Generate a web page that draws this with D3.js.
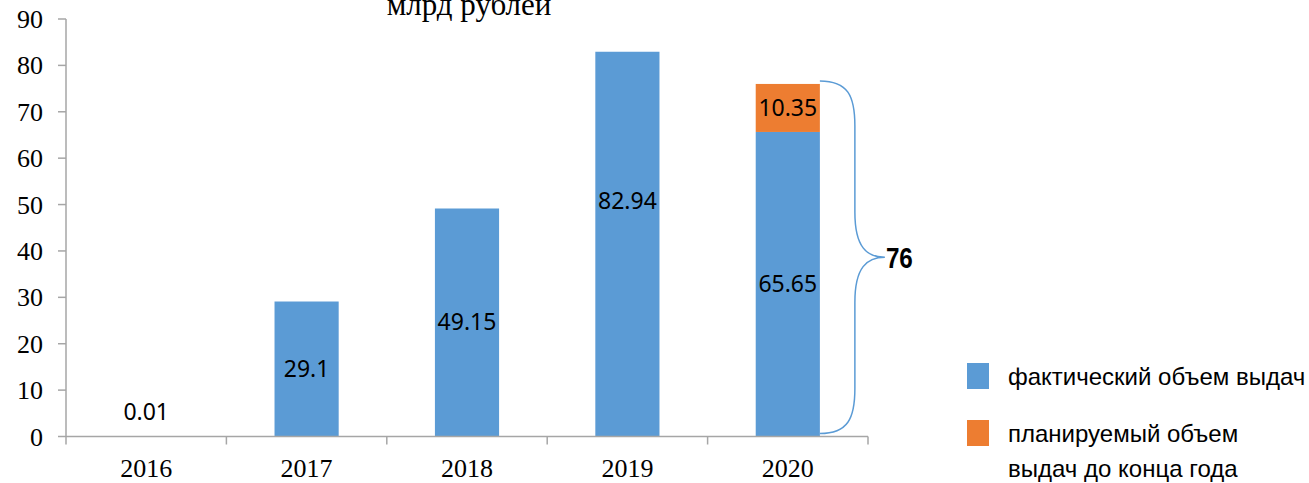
<!DOCTYPE html>
<html>
<head>
<meta charset="utf-8">
<script src="https://cdn.jsdelivr.net/npm/d3@7"></script>
<style>
  html, body { margin: 0; padding: 0; background: #fff; }
  svg { display: block; }
</style>
</head>
<body>
<div id="chart"></div>
<script>
// Values
const YEARS = ['2016', '2017', '2018', '2019', '2020'];
const ACTUAL = [0.01, 29.1, 49.15, 82.94, 65.65];    // фактический объем выдач
const PLANNED = [0, 0, 0, 0, 10.35];                 // планируемый объем выдач до конца года
const Y_TICKS = [0, 10, 20, 30, 40, 50, 60, 70, 80, 90];
const TITLE = 'млрд рублей';
const TOTAL_LABEL = '76';
const LEGEND = [
  { lines: ['фактический объем выдач'], color: '#5B9BD5' },
  { lines: ['планируемый объем', 'выдач до конца года'], color: '#ED7D31' }
];

(function() {
  const W = 1309, H = 483;
  const BLUE = '#5B9BD5', ORANGE = '#ED7D31', AXIS = '#A6A6A6';
  const SERIF = '"Liberation Serif", "Times New Roman", serif';
  const SANS = '"Noto Sans", "Open Sans", sans-serif';

  const svg = d3.select('#chart').append('svg')
    .attr('width', W).attr('height', H);

  const x = d3.scaleBand().domain(YEARS).range([66, 868]).padding(0);
  const y = d3.scaleLinear().domain([0, 90]).range([436.5, 19]);
  const barW = x.bandwidth() * 0.4;
  const barX = d => x(d) + (x.bandwidth() - barW) / 2;

  // title (top is clipped by the image edge in the original)
  svg.append('text')
    .attr('x', 469).attr('y', 15)
    .attr('text-anchor', 'middle')
    .style('font-family', SERIF).style('font-size', '31px')
    .text(TITLE);

  // y axis
  const yAxis = svg.append('g');
  yAxis.append('line')
    .attr('x1', 66).attr('x2', 66)
    .attr('y1', y(90)).attr('y2', y(0))
    .attr('stroke', AXIS).attr('stroke-width', 1.5);
  const yt = yAxis.selectAll('g.tick').data(Y_TICKS).join('g').attr('class', 'tick');
  yt.append('line')
    .attr('x1', 58).attr('x2', 66)
    .attr('y1', d => y(d)).attr('y2', d => y(d))
    .attr('stroke', AXIS).attr('stroke-width', 1.5);
  yt.append('text')
    .attr('x', 43).attr('y', d => y(d) + 9)
    .attr('text-anchor', 'end')
    .style('font-family', SERIF).style('font-size', '26px')
    .text(d => d);

  // bars
  const stacks = YEARS.map((d, i) => ({ year: d, a: ACTUAL[i], p: PLANNED[i] }));
  svg.append('g').selectAll('rect.actual').data(stacks).join('rect')
    .attr('class', 'actual')
    .attr('x', d => barX(d.year)).attr('width', barW)
    .attr('y', d => y(d.a)).attr('height', d => y(0) - y(d.a))
    .attr('fill', BLUE);
  svg.append('g').selectAll('rect.planned').data(stacks.filter(d => d.p > 0)).join('rect')
    .attr('class', 'planned')
    .attr('x', d => barX(d.year)).attr('width', barW)
    .attr('y', d => y(d.a + d.p)).attr('height', d => y(d.a) - y(d.a + d.p))
    .attr('fill', ORANGE);

  // x axis
  const xAxis = svg.append('g');
  xAxis.append('line')
    .attr('x1', 66).attr('x2', 868)
    .attr('y1', y(0)).attr('y2', y(0))
    .attr('stroke', AXIS).attr('stroke-width', 1.5);
  const bounds = YEARS.map(d => x(d)).concat([x(YEARS[YEARS.length - 1]) + x.bandwidth()]);
  xAxis.selectAll('line.tick').data(bounds).join('line')
    .attr('class', 'tick')
    .attr('x1', d => d).attr('x2', d => d)
    .attr('y1', y(0)).attr('y2', y(0) + 8)
    .attr('stroke', AXIS).attr('stroke-width', 1.5);
  xAxis.selectAll('text').data(YEARS).join('text')
    .attr('x', d => x(d) + x.bandwidth() / 2).attr('y', 477)
    .attr('text-anchor', 'middle')
    .style('font-family', SERIF).style('font-size', '26px')
    .text(d => d);

  // data labels, centred in segments (tiny bars get lifted off the axis,
  // the 2019 label sits higher in the original, hand-moved there)
  const labels = [];
  stacks.forEach(d => {
    let cy = Math.min(y(d.a / 2), y(0) - 25);
    if (d.year === '2019') cy -= 43;
    labels.push({ year: d.year, v: d.a, cy });
    if (d.p > 0) labels.push({ year: d.year, v: d.p, cy: y(d.a + d.p / 2) });
  });
  svg.append('g').selectAll('text').data(labels).join('text')
    .attr('x', d => x(d.year) + x.bandwidth() / 2)
    .attr('y', d => d.cy + 8)
    .attr('text-anchor', 'middle')
    .style('font-family', SANS).style('font-size', '23px')
    .attr('fill', '#000')
    .text(d => d.v);

  // brace around the 2020 total
  const last = stacks[stacks.length - 1];
  const x0 = barX(last.year) + barW;
  const x1 = x0 + 35, x2 = x0 + 65;
  const yTop = y(last.a + last.p) - 3, yBot = y(0) - 3;
  const yMid = (yTop + yBot) / 2;
  const brace = `M${x0},${yTop}
    C${x0 + 28},${yTop} ${x1},${yTop + 15} ${x1},${yTop + 45}
    L${x1},${yMid - 45}
    C${x1},${yMid - 10} ${x1 + 12},${yMid} ${x2},${yMid}
    C${x1 + 12},${yMid} ${x1},${yMid + 10} ${x1},${yMid + 45}
    L${x1},${yBot - 45}
    C${x1},${yBot - 15} ${x0 + 28},${yBot} ${x0},${yBot}`;
  svg.append('path')
    .attr('d', brace)
    .attr('fill', 'none').attr('stroke', BLUE).attr('stroke-width', 1.5);
  // narrow bold face is not installed, so squeeze the regular bold
  svg.append('text')
    .attr('x', x2 + 1).attr('y', yMid + 11)
    .attr('textLength', 27).attr('lengthAdjust', 'spacingAndGlyphs')
    .style('font-family', '"Liberation Sans", Arial, sans-serif')
    .style('font-weight', 'bold').style('font-size', '30px')
    .text(TOTAL_LABEL);

  // legend
  const lg = svg.append('g');
  const rows = [{ top: 363, base: 385 }, { top: 420, base: 442 }];
  LEGEND.forEach((item, i) => {
    lg.append('rect')
      .attr('x', 967).attr('y', rows[i].top)
      .attr('width', 22).attr('height', 26)
      .attr('fill', item.color);
    item.lines.forEach((ln, j) => {
      lg.append('text')
        .attr('x', 1008).attr('y', rows[i].base + j * 35)
        .style('font-family', '"Liberation Sans", Arial, sans-serif')
        .style('font-size', '24px')
        .text(ln);
    });
  });
})();
</script>
</body>
</html>
